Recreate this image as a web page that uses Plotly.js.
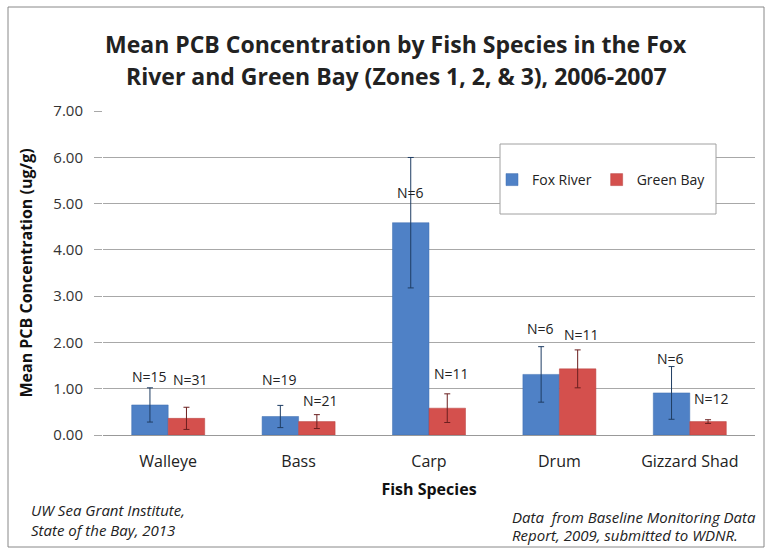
<!DOCTYPE html>
<html>
<head>
<meta charset="utf-8">
<script src="https://cdn.plot.ly/plotly-3.0.1.min.js"></script>
<style>
html,body{margin:0;padding:0;background:#fff;}
#chart{width:769px;height:552px;}
</style>
</head>
<body>
<div id="chart"></div>
<script>
var species = ["Walleye", "Bass", "Carp", "Drum", "Gizzard Shad"];
var foxRiver = [0.65, 0.40, 4.59, 1.31, 0.91];
var foxRiverErr = [0.37, 0.24, 1.41, 0.60, 0.57];
var greenBay = [0.36, 0.29, 0.58, 1.43, 0.29];
var greenBayErr = [0.24, 0.15, 0.31, 0.41, 0.04];
var foxN = ["N=15", "N=19", "N=6", "N=6", "N=6"];
var greenN = ["N=31", "N=21", "N=11", "N=11", "N=12"];
var foxLabelY = [1.27, 1.19, 5.25, 2.31, 1.65];
var greenLabelY = [1.20, 0.75, 1.32, 2.18, 0.80];
var yTicks = [0, 1, 2, 3, 4, 5, 6, 7];
var yTickText = ["0.00", "1.00", "2.00", "3.00", "4.00", "5.00", "6.00", "7.00"];

var FONT = "Open Sans, Liberation Sans, sans-serif";
var W = 769, H = 552;
var m = {l: 103, r: 14, t: 111, b: 117};
var pw = W - m.l - m.r, ph = H - m.t - m.b;
function px(x) { return (x - m.l) / pw; }
function py(y) { return (H - m.b - y) / ph; }

var traces = [
  {
    type: "bar", name: "Fox River", x: species, y: foxRiver,
    marker: {color: "#4f81c6", line: {color: "#3f6fb0", width: 0.5}},
    error_y: {type: "data", array: foxRiverErr, visible: true, color: "#1f3d63", thickness: 1, width: 3}
  },
  {
    type: "bar", name: "Green Bay", x: species, y: greenBay,
    marker: {color: "#d4504d", line: {color: "#b84240", width: 0.5}},
    error_y: {type: "data", array: greenBayErr, visible: true, color: "#6b1f1f", thickness: 1, width: 3}
  }
];

var annotations = [];
for (var i = 0; i < species.length; i++) {
  annotations.push({x: species[i], y: foxLabelY[i], xref: "x", yref: "y", yanchor: "middle", text: foxN[i], showarrow: false,
    xshift: -19, font: {family: FONT, size: 14, color: "#222"}});
  annotations.push({x: species[i], y: greenLabelY[i], xref: "x", yref: "y", yanchor: "middle", text: greenN[i], showarrow: false,
    xshift: 22, font: {family: FONT, size: 14, color: "#222"}});
}
function note(x, y, text, size, anchor) {
  annotations.push({xref: "paper", yref: "paper", x: px(x), y: py(y), xanchor: anchor, yanchor: "middle",
    text: text, showarrow: false, font: {family: FONT, size: size, color: "#222"}});
}
note(396, 44, "<b>Mean PCB Concentration by Fish Species in the Fox</b>", 23, "center");
note(396, 76, "<b>River and Green Bay (Zones 1, 2, &amp; 3), 2006-2007</b>", 23, "center");
note(29, 510, "<i>UW Sea Grant Institute,</i>", 15, "left");
note(29, 530, "<i>State of the Bay, 2013</i>", 15, "left");
note(510, 517, "<i>Data  from Baseline Monitoring Data</i>", 15, "left");
note(510, 535, "<i>Report, 2009, submitted to WDNR.</i>", 15, "left");

var layout = {
  width: W, height: H,
  margin: m,
  paper_bgcolor: "#fff", plot_bgcolor: "#fff",
  barmode: "group", bargap: 0.44, bargroupgap: 0,
  showlegend: true,
  legend: {orientation: "h", x: px(492), y: py(180), xanchor: "left", yanchor: "middle",
    bgcolor: "rgba(0,0,0,0)", borderwidth: 0,
    font: {family: FONT, size: 14, color: "#222"}, traceorder: "normal"},
  xaxis: {
    tickfont: {family: FONT, size: 16, color: "#222"},
    ticklabelstandoff: 12,
    title: {text: "<b>Fish Species</b>", font: {family: FONT, size: 16, color: "#111"}, standoff: 12},
    showline: true, linecolor: "#999", linewidth: 1, ticks: "", showgrid: false
  },
  yaxis: {
    range: [0, 7.005], tickvals: yTicks, ticktext: yTickText,
    tickfont: {family: FONT, size: 15, color: "#333"},
    ticklabelstandoff: 8,
    title: {text: "<b>Mean PCB Concentration (ug/g)</b>", font: {family: FONT, size: 16, color: "#111"}, standoff: 16},
    showgrid: true, gridcolor: "#a8a8a8", gridwidth: 1, zeroline: false,
    ticks: "outside", ticklen: 8, tickcolor: "#a8a8a8", showline: false
  },
  annotations: annotations,
  shapes: [
    {type: "rect", xref: "paper", yref: "paper", x0: px(8), x1: px(764), y0: py(7), y1: py(547),
      line: {color: "#888", width: 1}, fillcolor: "rgba(0,0,0,0)"},
    {type: "rect", xref: "paper", yref: "paper", layer: "above", x0: px(500), x1: px(716), y0: py(144), y1: py(214),
      line: {color: "#a0a0a0", width: 1}, fillcolor: "#fff"}
  ]
};

Plotly.newPlot("chart", traces, layout, {displayModeBar: false, staticPlot: true});
</script>
</body>
</html>
